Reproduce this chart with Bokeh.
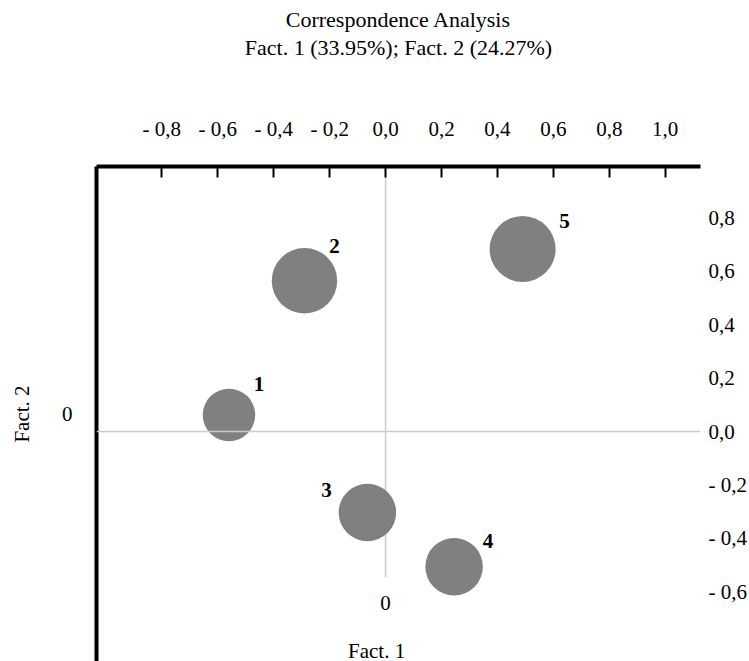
from bokeh.plotting import figure
from bokeh.models import LinearAxis, FixedTicker, Label, Title, Range1d, ColumnDataSource, Span
from bokeh.embed import file_html
from bokeh.resources import INLINE
from bokeh.core.properties import value

# ---------------- data ----------------
points = ["1", "2", "3", "4", "5"]
fact1 = [-0.56, -0.29, -0.065, 0.245, 0.49]
fact2 = [0.062, 0.564, -0.303, -0.506, 0.683]
mass = [1.05, 1.31, 1.15, 1.15, 1.32]

x_ticks = [-0.8, -0.6, -0.4, -0.2, 0.0, 0.2, 0.4, 0.6, 0.8, 1.0]
x_tick_labels = ["- 0,8", "- 0,6", "- 0,4", "- 0,2", "0,0", "0,2", "0,4", "0,6", "0,8", "1,0"]
y_ticks = [0.8, 0.6, 0.4, 0.2, 0.0, -0.2, -0.4, -0.6]
y_tick_labels = ["0,8", "0,6", "0,4", "0,2", "0,0", "- 0,2", "- 0,4", "- 0,6"]

title_main = "Correspondence Analysis"
title_sub = "Fact. 1 (33.95%); Fact. 2 (24.27%)"
x_label = "Fact. 1"
y_label = "Fact. 2"
origin_label = "0"

# ---------------- layout constants ----------------
X_START, X_END = -1.0337, 1.1261
Y_START, Y_END = -0.8608, 0.9918
V_LINE_BOTTOM = -0.546      # lower end of the vertical zero line
SIZE_SCALE = 50
FONT = "Liberation Serif"

# label offsets (screen px, y down) for the point numbers
dx = [30, 30, -41, 34, 42]
dy = [-31, -35, -22, -26, -28]

src = ColumnDataSource(dict(
    x=fact1, y=fact2, name=points,
    size=[m * SIZE_SCALE for m in mass], dx=dx, dy=dy,
))

p = figure(width=749, height=661, output_backend="svg", toolbar_location=None,
           x_range=Range1d(X_START, X_END), y_range=Range1d(Y_START, Y_END),
           x_axis_location="above", title=None,
           min_border_left=96, min_border_right=45, min_border_top=166, min_border_bottom=0)
p.grid.visible = False
p.outline_line_color = None
p.background_fill_color = "white"

# top axis (its axis label carries the second title line)
xa = p.xaxis[0]
xa.ticker = FixedTicker(ticks=x_ticks)
xa.major_label_overrides = {t: l for t, l in zip(x_ticks, x_tick_labels)}
xa.axis_line_width = 4
xa.axis_line_color = "black"
xa.major_tick_in = 11
xa.major_tick_out = 0
xa.major_tick_line_width = 2
xa.minor_tick_line_color = None
xa.major_label_standoff = 26
xa.major_label_text_font = FONT
xa.major_label_text_font_size = "21px"
xa.major_label_text_color = "black"
xa.axis_label = title_sub
xa.axis_label_standoff = 54
xa.axis_label_text_font = FONT
xa.axis_label_text_font_size = "22px"
xa.axis_label_text_font_style = "normal"
xa.axis_label_text_color = "black"

p.add_layout(Title(text=title_main, align="center", text_font=FONT, text_font_size="22px",
                   text_font_style="normal", text_color="black", standoff=0), "above")

# left axis: thick line with the "0" marker label
ya = p.yaxis[0]
ya.ticker = FixedTicker(ticks=[])
ya.axis_line_width = 4
ya.axis_line_color = "black"
ya.major_tick_out = 0
ya.major_tick_in = 0
ya.minor_tick_line_color = None
ya.major_label_standoff = 0
ya.axis_label = origin_label
ya.axis_label_orientation = "horizontal"
ya.axis_label_standoff = 24
ya.axis_label_text_font = FONT
ya.axis_label_text_font_size = "21px"
ya.axis_label_text_font_style = "normal"
ya.axis_label_text_color = "black"

# outer left axis: only the "Fact. 2" title
ya2 = LinearAxis(ticker=FixedTicker(ticks=[]))
ya2.axis_line_color = None
ya2.major_tick_out = 0
ya2.major_tick_in = 0
ya2.minor_tick_line_color = None
ya2.major_label_standoff = 0
ya2.axis_label = y_label
ya2.axis_label_standoff = 25
ya2.axis_label_text_font = FONT
ya2.axis_label_text_font_size = "21px"
ya2.axis_label_text_font_style = "normal"
ya2.axis_label_text_color = "black"
p.add_layout(ya2, "left")

# right-hand tick labels
ra = LinearAxis(ticker=FixedTicker(ticks=y_ticks))
ra.major_label_overrides = {t: l for t, l in zip(y_ticks, y_tick_labels)}
ra.axis_line_color = None
ra.major_tick_line_color = None
ra.minor_tick_line_color = None
ra.major_label_standoff = 2
ra.major_label_text_font = FONT
ra.major_label_text_font_size = "21px"
ra.major_label_text_color = "black"
p.add_layout(ra, "right")

# zero lines
p.add_layout(Span(location=0, dimension="width", line_color="#cccccc", line_width=1.5))
p.line(x=[0, 0], y=[V_LINE_BOTTOM, Y_END], line_color="#cccccc", line_width=1.5)

# bubbles
p.scatter(x="x", y="y", size="size", source=src, fill_color="#808080", line_color=None)
p.text(x="x", y="y", text="name", source=src, x_offset="dx", y_offset="dy",
       text_font=value(FONT), text_font_size="21px", text_font_style="bold",
       text_align="center", text_baseline="middle", text_color="black")

# free labels
p.add_layout(Label(x=0, y=V_LINE_BOTTOM, x_offset=0, y_offset=-26, text=origin_label,
                   text_font=FONT, text_font_size="21px", text_align="center",
                   text_baseline="middle", text_color="black"))
p.add_layout(Label(x=0, y=Y_START, x_offset=-9, y_offset=11, text=x_label,
                   text_font=FONT, text_font_size="21px", text_align="center",
                   text_baseline="middle", text_color="black"))

open("out.html", "w").write(file_html(p, INLINE))
